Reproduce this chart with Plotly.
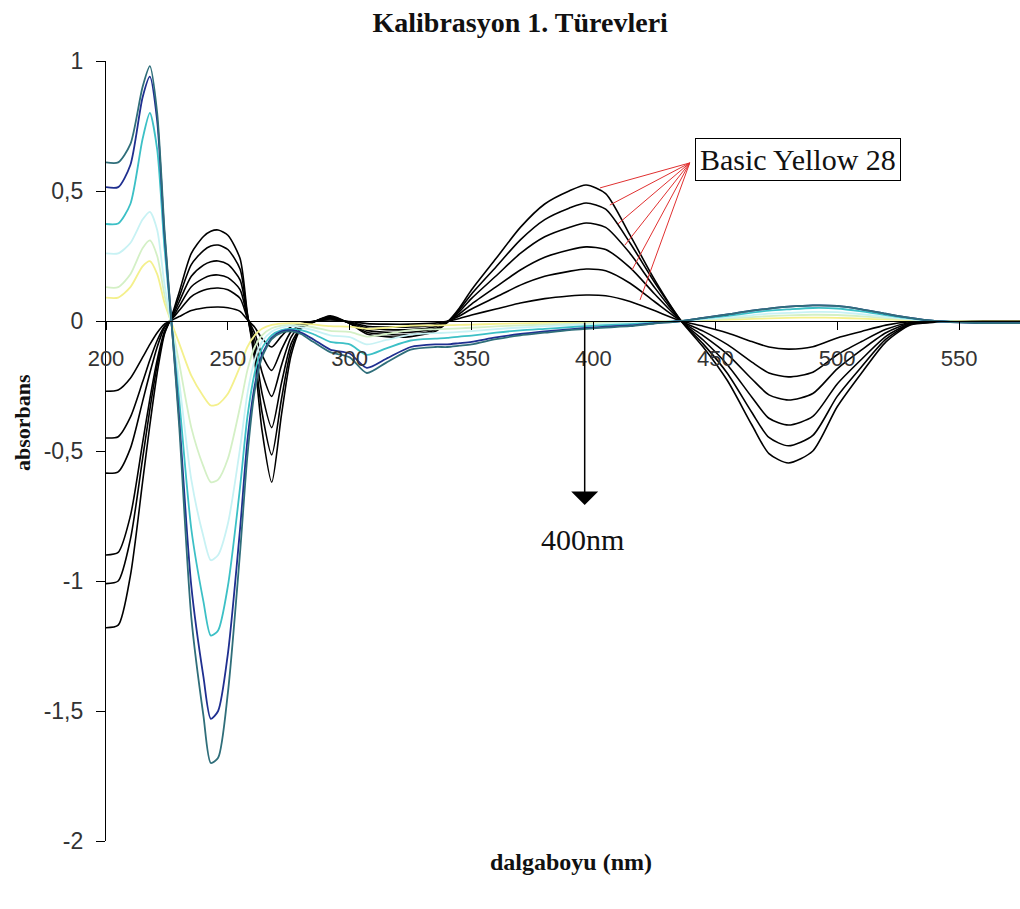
import plotly.graph_objects as go

# Wavelength grid (nm)
wavelength = [200, 205, 210, 215, 218, 221, 224, 227, 230, 235,
              240, 243, 246, 250, 255, 258, 261, 264, 268, 272,
              276, 280, 285, 292, 300, 307, 315, 325, 335, 340,
              345, 350, 360, 370, 380, 390, 397, 405, 415, 425,
              436, 445, 455, 465, 472, 480, 490, 500, 510, 520,
              530, 540, 550, 560, 575]

# Basic Yellow 28 first-derivative spectra (six calibration levels)
by28_6 = [-1.18, -1.17, -0.98, -0.62, -0.40, -0.20, -0.05, 0.02, 0.11, 0.26,
          0.325, 0.345, 0.35, 0.33, 0.24, 0.03, -0.15, -0.42, -0.62, -0.36,
          -0.13, -0.03, -0.005, 0.02, -0.01, -0.05, -0.06, -0.06, -0.04, -0.005,
          0.05, 0.12, 0.24, 0.36, 0.45, 0.50, 0.523, 0.49, 0.33, 0.16,
          0.0, -0.10, -0.23, -0.40, -0.51, -0.546, -0.50, -0.33, -0.20, -0.08,
          -0.015, -0.005, 0.0, 0.0, 0.0]
by28_5 = [-1.01, -1.00, -0.84, -0.53, -0.34, -0.17, -0.045, 0.017, 0.092, 0.217,
          0.271, 0.288, 0.292, 0.275, 0.20, 0.025, -0.125, -0.35, -0.515, -0.30,
          -0.108, -0.028, -0.005, 0.017, -0.009, -0.043, -0.052, -0.052, -0.035, -0.005,
          0.043, 0.104, 0.208, 0.312, 0.39, 0.434, 0.454, 0.43, 0.30, 0.15,
          0.0, -0.088, -0.202, -0.352, -0.448, -0.48, -0.44, -0.29, -0.176, -0.07,
          -0.013, -0.004, 0.0, 0.0, 0.0]
by28_4 = [-0.90, -0.89, -0.75, -0.47, -0.30, -0.15, -0.04, 0.013, 0.073, 0.172,
          0.215, 0.228, 0.231, 0.218, 0.158, 0.02, -0.10, -0.277, -0.41, -0.238,
          -0.086, -0.025, -0.004, 0.014, -0.008, -0.036, -0.043, -0.043, -0.029, -0.004,
          0.036, 0.087, 0.173, 0.26, 0.324, 0.36, 0.377, 0.36, 0.26, 0.13,
          0.0, -0.073, -0.169, -0.293, -0.374, -0.40, -0.367, -0.242, -0.147, -0.059,
          -0.011, -0.004, 0.0, 0.0, 0.0]
by28_3 = [-0.585, -0.58, -0.49, -0.31, -0.20, -0.10, -0.025, 0.01, 0.056, 0.132,
          0.164, 0.175, 0.177, 0.167, 0.121, 0.015, -0.07, -0.197, -0.29, -0.17,
          -0.061, -0.02, -0.003, 0.011, -0.006, -0.027, -0.033, -0.033, -0.022, -0.003,
          0.027, 0.065, 0.131, 0.196, 0.245, 0.273, 0.285, 0.275, 0.205, 0.105,
          0.0, -0.056, -0.128, -0.223, -0.284, -0.304, -0.279, -0.184, -0.111, -0.045,
          -0.008, -0.003, 0.0, 0.0, 0.0]
by28_2 = [-0.45, -0.445, -0.37, -0.235, -0.15, -0.075, -0.02, 0.007, 0.04, 0.094,
          0.118, 0.125, 0.127, 0.12, 0.087, 0.011, -0.047, -0.13, -0.19, -0.11,
          -0.04, -0.015, -0.002, 0.008, -0.004, -0.02, -0.023, -0.023, -0.015, -0.002,
          0.019, 0.046, 0.092, 0.138, 0.172, 0.191, 0.20, 0.193, 0.145, 0.075,
          0.0, -0.039, -0.091, -0.158, -0.20, -0.215, -0.197, -0.13, -0.079, -0.032,
          -0.006, -0.002, 0.0, 0.0, 0.0]
by28_1 = [-0.27, -0.265, -0.22, -0.14, -0.09, -0.045, -0.012, 0.003, 0.017, 0.04,
          0.05, 0.053, 0.054, 0.051, 0.037, 0.005, -0.024, -0.067, -0.10, -0.058,
          -0.021, -0.01, -0.001, 0.004, -0.002, -0.01, -0.012, -0.012, -0.008, -0.001,
          0.01, 0.023, 0.046, 0.069, 0.086, 0.096, 0.10, 0.097, 0.075, 0.04,
          0.0, -0.02, -0.046, -0.079, -0.10, -0.108, -0.099, -0.065, -0.04, -0.016,
          -0.003, -0.001, 0.0, 0.0, 0.0]

# Second dye, six calibration levels
dye2_teal = [0.61, 0.61, 0.68, 0.90, 0.98, 0.80, 0.35, -0.02, -0.40, -1.14,
             -1.52, -1.70, -1.68, -1.43, -0.89, -0.52, -0.27, -0.14, -0.07, -0.045,
             -0.04, -0.05, -0.08, -0.12, -0.14, -0.20, -0.16, -0.11, -0.10, -0.10,
             -0.095, -0.09, -0.07, -0.055, -0.045, -0.035, -0.03, -0.025, -0.02, -0.01,
             0.0, 0.012, 0.025, 0.04, 0.048, 0.055, 0.06, 0.058, 0.045, 0.028,
             0.012, 0.0, -0.005, -0.008, -0.008]
dye2_navy = [0.515, 0.515, 0.60, 0.86, 0.94, 0.77, 0.33, -0.02, -0.37, -1.02,
             -1.37, -1.53, -1.50, -1.28, -0.80, -0.46, -0.25, -0.13, -0.065, -0.04,
             -0.035, -0.045, -0.07, -0.11, -0.125, -0.18, -0.145, -0.10, -0.09, -0.09,
             -0.085, -0.08, -0.063, -0.05, -0.04, -0.032, -0.027, -0.022, -0.017, -0.008,
             0.0, 0.012, 0.025, 0.04, 0.048, 0.055, 0.06, 0.058, 0.045, 0.028,
             0.012, 0.0, -0.005, -0.008, -0.008]
dye2_turq = [0.373, 0.375, 0.45, 0.70, 0.80, 0.66, 0.28, -0.02, -0.30, -0.80,
             -1.08, -1.21, -1.19, -1.02, -0.64, -0.37, -0.20, -0.105, -0.055, -0.035,
             -0.03, -0.035, -0.05, -0.08, -0.09, -0.13, -0.105, -0.075, -0.068, -0.065,
             -0.06, -0.056, -0.045, -0.036, -0.03, -0.024, -0.02, -0.016, -0.012, -0.006,
             0.0, 0.01, 0.02, 0.032, 0.04, 0.045, 0.05, 0.048, 0.037, 0.023,
             0.01, 0.0, -0.004, -0.006, -0.006]
dye2_lturq = [0.26, 0.26, 0.30, 0.39, 0.42, 0.35, 0.14, -0.02, -0.23, -0.61,
              -0.83, -0.92, -0.90, -0.78, -0.49, -0.28, -0.15, -0.08, -0.04, -0.025,
              -0.02, -0.025, -0.035, -0.055, -0.062, -0.09, -0.073, -0.052, -0.047, -0.045,
              -0.042, -0.039, -0.031, -0.025, -0.02, -0.016, -0.014, -0.011, -0.008, -0.004,
              0.0, 0.007, 0.014, 0.022, 0.028, 0.031, 0.035, 0.034, 0.026, 0.016,
              0.007, 0.0, -0.003, -0.004, -0.004]
dye2_lgreen = [0.13, 0.13, 0.18, 0.28, 0.31, 0.25, 0.10, -0.02, -0.16, -0.41,
               -0.56, -0.62, -0.61, -0.53, -0.33, -0.19, -0.10, -0.055, -0.028, -0.018,
               -0.015, -0.017, -0.024, -0.038, -0.042, -0.06, -0.05, -0.035, -0.032, -0.03,
               -0.028, -0.026, -0.021, -0.017, -0.014, -0.011, -0.009, -0.007, -0.005, -0.003,
               0.0, 0.005, 0.01, 0.015, 0.019, 0.022, 0.024, 0.023, 0.018, 0.011,
               0.005, 0.0, -0.002, -0.003, -0.003]
dye2_lyellow = [0.09, 0.09, 0.13, 0.21, 0.23, 0.18, 0.07, -0.01, -0.085, -0.21,
                -0.29, -0.325, -0.32, -0.28, -0.175, -0.10, -0.055, -0.03, -0.015, -0.01,
                -0.008, -0.009, -0.013, -0.02, -0.022, -0.03, -0.026, -0.018, -0.017, -0.016,
                -0.015, -0.014, -0.011, -0.009, -0.007, -0.006, -0.005, -0.004, -0.003, -0.002,
                0.0, 0.003, 0.005, 0.008, 0.01, 0.012, 0.013, 0.012, 0.009, 0.006,
                0.003, 0.0, -0.001, -0.002, -0.002]

y_tickvals = [-2, -1.5, -1, -0.5, 0, 0.5, 1]
y_ticktext = ["-2", "-1,5", "-1", "-0,5", "0", "0,5", "1"]
x_tickvals = [200, 250, 300, 350, 400, 450, 500, 550]

# Leader lines from the label box to the Basic Yellow 28 curves
leader_start = (439.5, 0.608)
leader_end_x = [402.7, 406.7, 410.0, 412.9, 415.8, 419.1]
leader_end_y = [0.512, 0.446, 0.373, 0.292, 0.196, 0.081]

fig = go.Figure()

black_series = [by28_1, by28_2, by28_3, by28_4, by28_5, by28_6]
for s in black_series:
    fig.add_trace(go.Scatter(x=wavelength, y=s, mode="lines",
                             line=dict(color="#000000", width=1.6, shape="spline", smoothing=0.7),
                             hoverinfo="skip"))

dye2_series = [
    (dye2_lyellow, "#F4F08C"),
    (dye2_lgreen, "#D4F0C6"),
    (dye2_lturq, "#C8F2F4"),
    (dye2_turq, "#3CC0C6"),
    (dye2_navy, "#1F2F90"),
    (dye2_teal, "#2F6E7A"),
]
for s, c in dye2_series:
    fig.add_trace(go.Scatter(x=wavelength, y=s, mode="lines",
                             line=dict(color=c, width=1.8, shape="spline", smoothing=0.7),
                             hoverinfo="skip"))

shapes = []
for ex, ey in zip(leader_end_x, leader_end_y):
    shapes.append(dict(type="line", xref="x", yref="y",
                       x0=leader_start[0], y0=leader_start[1], x1=ex, y1=ey,
                       line=dict(color="#E03030", width=1)))

annotations = [
    dict(text="<b>dalgaboyu (nm)</b>", xref="paper", yref="paper",
         x=0.5087, y=-0.027, showarrow=False, xanchor="center", yanchor="middle",
         font=dict(family="Liberation Serif", size=24, color="#111")),
    dict(text="<b>absorbans</b>", xref="paper", yref="paper",
         x=-0.092, y=0.537, showarrow=False, xanchor="center", yanchor="middle",
         textangle=-90, font=dict(family="Liberation Serif", size=22, color="#111")),
    dict(text="Basic Yellow 28", xref="x", yref="y", x=483.9, y=0.623,
         showarrow=False, xanchor="center", yanchor="middle",
         bordercolor="#000", borderwidth=1, borderpad=4, bgcolor="#FFFFFF",
         font=dict(family="Liberation Serif", size=30, color="#111")),
    dict(text="", xref="x", yref="y", x=396.4, y=-0.708,
         axref="x", ayref="y", ax=396.4, ay=0.0,
         showarrow=True, arrowhead=1, arrowsize=3, arrowwidth=1.5, arrowcolor="#000"),
    dict(text="400nm", xref="x", yref="y", x=395.6, y=-0.842,
         showarrow=False, xanchor="center", yanchor="middle",
         font=dict(family="Liberation Serif", size=30, color="#111")),
]

fig.update_layout(
    width=1020, height=909,
    margin=dict(l=106, r=0, t=61, b=68),
    paper_bgcolor="#FFFFFF", plot_bgcolor="#FFFFFF",
    showlegend=False,
    title=dict(text="<b>Kalibrasyon 1. Türevleri</b>", x=0.51, xanchor="center",
               y=1 - 22 / 909, yanchor="middle", yref="container",
               font=dict(family="Liberation Serif", size=28, color="#111")),
    xaxis=dict(range=[200, 575], anchor="free", position=2 / 3,
               showline=True, linecolor="#000", linewidth=1.2,
               ticks="outside", ticklen=8, tickcolor="#000", tickwidth=1.2,
               tickvals=x_tickvals, showgrid=False, zeroline=False,
               ticklabelstandoff=9,
               tickfont=dict(family="Liberation Sans", size=22, color="#333")),
    yaxis=dict(range=[-2, 1], showline=True, linecolor="#000", linewidth=1.2,
               ticks="outside", ticklen=9, tickcolor="#000", tickwidth=1.2,
               tickvals=y_tickvals, ticktext=y_ticktext,
               showgrid=False, zeroline=False, ticklabelstandoff=8,
               tickfont=dict(family="Liberation Sans", size=23, color="#333")),
    shapes=shapes,
    annotations=annotations,
)

fig.write_html("out.html")
